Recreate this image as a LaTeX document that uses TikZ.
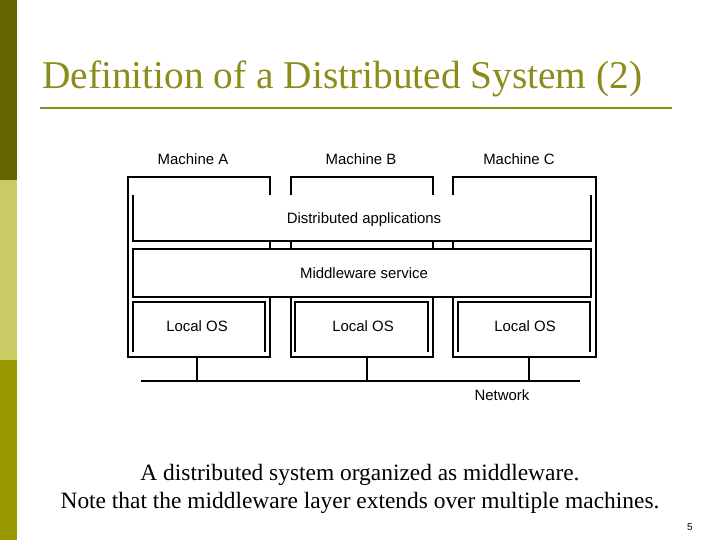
\documentclass[tikz,border=0pt]{standalone}
\usepackage{fontspec}
\setmainfont{Liberation Serif}
\newfontfamily\arial{Liberation Sans}
\definecolor{darkol}{HTML}{666600}
\definecolor{lightol}{HTML}{CCCC66}
\definecolor{midol}{HTML}{999900}
\definecolor{titlecol}{HTML}{8C8C1A}
\begin{document}
\begin{tikzpicture}[x=1bp,y=-1bp,
  lbl/.style={font=\arial\fontsize{15}{17}\selectfont, inner sep=0},
  ln/.style={line width=1.2bp},
  captxt/.style={font=\fontsize{23.5}{26}\selectfont, inner sep=0}]
\useasboundingbox (0,0) rectangle (720,540);
\fill[white] (0,0) rectangle (720,540);
\fill[darkol] (0,0) rectangle (17,180);
\fill[lightol] (0,180) rectangle (17,360);
\fill[midol] (0,360) rectangle (17,540);
\node[anchor=base west, text=titlecol, font=\fontsize{39.5}{42}\selectfont, inner sep=0] (title) at (42,89) {Definition of a Distributed System (2)};
\draw[titlecol, line width=2.5bp] (40,108) -- (672,108);
% machines
\draw[ln] (128,357) rectangle (270,177);
\draw[ln] (291,357) rectangle (433,177);
\draw[ln] (453,357) rectangle (596,177);
\node[lbl] (ma) at (193,159) {Machine A};
\node[lbl] (mb) at (361,159) {Machine B};
\node[lbl] (mc) at (519,159) {Machine C};
% distributed apps
\fill[white] (133,195) rectangle (591,241);
\draw[ln] (133,195) -- (133,241) -- (591,241) -- (591,195);
\node[lbl] (da) at (364,220) {Distributed applications};
% middleware
\draw[ln,fill=white] (133,249) rectangle (591,297);
\node[lbl] (mw) at (364,273) {Middleware service};
% local OS
\foreach \a/\b/\n in {133/265/A,295/428/B,458/590/C}{
  \fill[white] (\a,302) rectangle (\b,352);
  \draw[ln] (\a,352) -- (\a,302) -- (\b,302) -- (\b,352);
}
\node[lbl] (osa) at (197,326) {Local OS};
\node[lbl] (osb) at (363,326) {Local OS};
\node[lbl] (osc) at (525,326) {Local OS};
% network
\coordinate (nl) at (141,381); \coordinate (nr) at (580,381);
\draw[line width=2.5bp] (nl) -- (nr);
\foreach \x in {197,367,529} \draw[line width=2.5bp] (\x,357) -- (\x,381);
\node[lbl] (net) at (502,395) {Network};
\node[captxt] (c1) at (360,475) {A distributed system organized as middleware.};
\node[captxt] (c2) at (360,503) {Note that the middleware layer extends over multiple machines.};
\node[font=\arial\fontsize{10}{12}\selectfont, inner sep=0] (pg) at (690,527) {5};
\end{tikzpicture}
\end{document}
